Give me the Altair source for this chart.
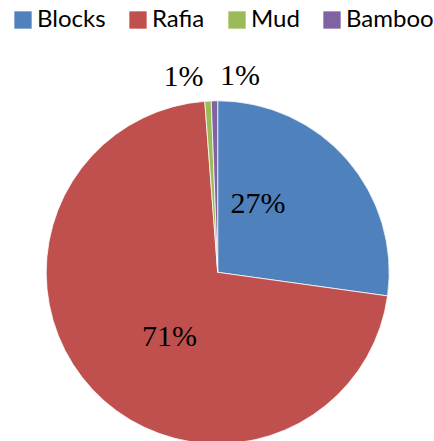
import altair as alt
import pandas as pd

# ---- data ----
categories = ["Blocks", "Rafia", "Mud", "Bamboo"]
shares = [27.2, 71.6, 0.6, 0.6]
labels = ["27%", "71%", "1%", "1%"]
colors = ["#4F81BD", "#C0504D", "#9BBB59", "#8064A2"]

df = pd.DataFrame({
    "category": categories,
    "share": shares,
    "label": labels,
    "order": list(range(len(categories))),
})

CX, CY, R = 217.7, 272.3, 171.5

theta_scale = alt.Scale(domain=[0, 100])
color_scale = alt.Scale(domain=categories, range=colors)

base = alt.Chart(df).transform_window(
    cum="sum(share)", sort=[alt.SortField("order")], frame=[None, 0]
).transform_calculate(mid="datum.cum - datum.share / 2")

pie = base.mark_arc(radius=R, stroke="white", strokeWidth=0.75).encode(
    x=alt.value(CX),
    y=alt.value(CY),
    theta=alt.Theta("share:Q", stack=True, scale=theta_scale),
    order=alt.Order("order:Q"),
    color=alt.Color(
        "category:N",
        scale=color_scale,
        sort=categories,
        legend=alt.Legend(
            orient="none",
            legendX=11,
            legendY=8,
            direction="horizontal",
            title=None,
            symbolType="square",
            symbolSize=300,
            symbolStrokeWidth=0,
            symbolOpacity=1,
            labelFont="Lato",
            labelFontSize=24,
            labelColor="black",
            labelOffset=2,
            columnPadding=20,
            padding=0,
        ),
    ),
)


def pct_label(cat, radius, dx, dy):
    return base.transform_filter(alt.datum.category == cat).mark_text(
        radius=radius, dx=dx, dy=dy,
        font="Liberation Serif", fontSize=30, color="black",
    ).encode(
        x=alt.value(CX),
        y=alt.value(CY),
        theta=alt.Theta("mid:Q", stack=None, scale=theta_scale),
        text="label:N",
    )


layers = [
    pie,
    pct_label("Blocks", 80, -20, -16),
    pct_label("Rafia", 80, 10, 10),
    pct_label("Mud", 196, -23, 0),
    pct_label("Bamboo", 196, 26, 0),
]

chart = alt.layer(*layers).properties(
    width=434, height=441, autosize="none", padding=0, background="white"
).configure_view(stroke=None)

chart.save("out.html", embed_options={"renderer": "svg", "actions": False})
